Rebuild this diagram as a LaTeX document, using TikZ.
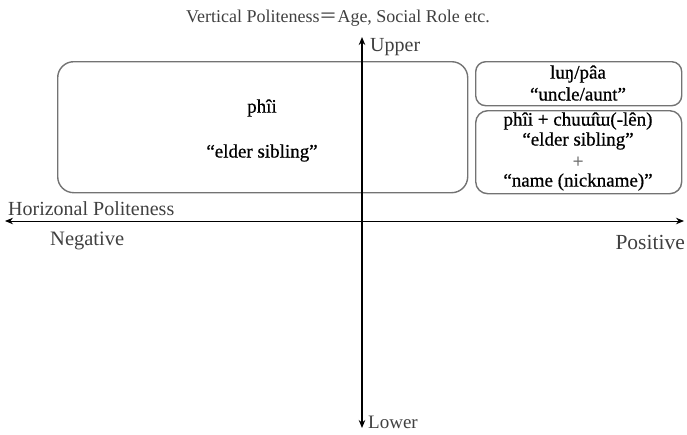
\documentclass[tikz,border=0pt]{standalone}
\usepackage{fontspec}
\setmainfont{Liberation Serif}
\newfontfamily\cjk{Noto Sans CJK JP}
\newfontfamily\boxfont[FakeBold=0.7]{Liberation Serif}
\usetikzlibrary{arrows.meta}
\tikzset{
  box/.style={draw=black!55, line width=1.4pt, inner sep=0pt},
  axislabel/.style={text=black!75, font=\fontsize{20}{22}\selectfont, inner sep=0pt},
  boxtext/.style={text=black, font=\boxfont\fontsize{19}{21}\selectfont, inner sep=0pt},
  axis/.style={line width=#1, {Stealth[length=8pt,width=6.5pt]}-{Stealth[length=8pt,width=6.5pt]}}
}
\begin{document}
\begin{tikzpicture}[x=1pt,y=-1pt]
\useasboundingbox (0,0) rectangle (687,434);
% boxes
\node[box, rounded corners=16pt, minimum width=410pt, minimum height=131pt, anchor=north west] (L) at (57,61) {};
\node[box, rounded corners=10pt, minimum width=206pt, minimum height=44pt, anchor=north west] (RT) at (475,61) {};
\node[box, rounded corners=12pt, minimum width=206pt, minimum height=83pt, anchor=north west] (RB) at (475,110) {};
% axes
\coordinate (vtop) at (362,37);
\coordinate (vbot) at (362,428);
\coordinate (hl) at (5,221);
\coordinate (hr) at (684,221);
\draw[axis=1pt] (hl) -- (hr);
\draw[axis=2.6pt] (vbot) -- (vtop);
% axis labels
\node[axislabel, font=\fontsize{18}{20}\selectfont] (title) at (338,18) {Vertical Politeness{\cjk ＝}Age, Social Role etc.};
\node[axislabel, anchor=west] (upper) at (370,47) {Upper};
\node[axislabel, anchor=west, font=\fontsize{19}{21}\selectfont] (lower) at (368,422) {Lower};
\node[axislabel, anchor=west] (hor) at (8,209) {Horizonal Politeness};
\node[axislabel, anchor=west, font=\fontsize{20.5}{22}\selectfont] (neg) at (50,241) {Negative};
\node[axislabel, anchor=east, font=\fontsize{21.5}{22}\selectfont] (pos) at (685,242) {Positive};
% box texts
\node[boxtext] (t1) at (262,108) {phîi};
\node[boxtext] (t2) at (262,153) {“elder sibling”};
\node[boxtext] (t3) at (578,74) {luŋ/pâa};
\node[boxtext] (t4) at (578,94) {“uncle/aunt”};
\node[boxtext] (t5) at (578,121) {phîi + chuɯ̂ɯ(-lên)};
\node[boxtext] (t6) at (578,141) {“elder sibling”};
\node[boxtext, text=black!60] (t7) at (578,162) {+};
\node[boxtext] (t8) at (578,182) {“name (nickname)”};
\end{tikzpicture}
\end{document}
